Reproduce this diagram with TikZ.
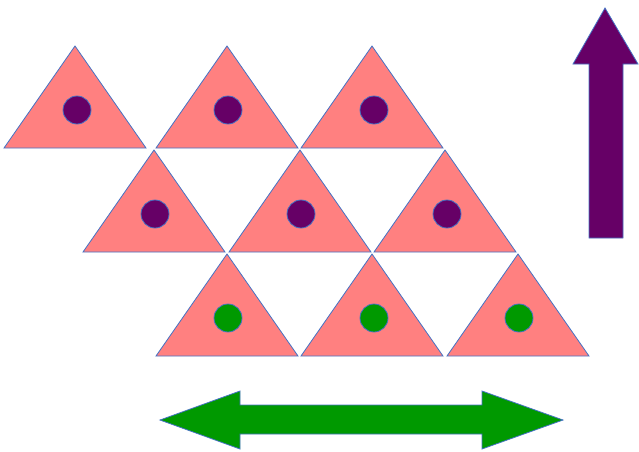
\documentclass[tikz,border=0pt]{standalone}
\usepackage{tikz}

\definecolor{trifill}{HTML}{FF8080}
\definecolor{edgeblue}{HTML}{4472C4}
\definecolor{dotpurple}{HTML}{660066}
\definecolor{dotgreen}{HTML}{009900}

\begin{document}
\begin{tikzpicture}[x=1pt, y=-1pt,
	tri/.style={fill=trifill, draw=edgeblue, line width=0.8pt, line join=miter},
	dotp/.style={fill=dotpurple, draw=edgeblue, line width=0.8pt},
	dotg/.style={fill=dotgreen, draw=edgeblue, line width=0.8pt}]
	\useasboundingbox (0,0) rectangle (639,451);
	% top row
	\draw[tri] (4,148) -- (75,46) -- (146,148) -- cycle;
	\draw[tri] (156,148) -- (227,46) -- (298,148) -- cycle;
	\draw[tri] (301,148) -- (372,46) -- (443,148) -- cycle;
	% middle row
	\draw[tri] (83,252) -- (154,150) -- (225,252) -- cycle;
	\draw[tri] (229,252) -- (300,150) -- (371,252) -- cycle;
	\draw[tri] (374,252) -- (445,150) -- (516,252) -- cycle;
	% bottom row
	\draw[tri] (156,356) -- (227,254) -- (298,356) -- cycle;
	\draw[tri] (301,356) -- (372,254) -- (443,356) -- cycle;
	\draw[tri] (447,356) -- (518,254) -- (589,356) -- cycle;
	% dots
	\draw[dotp] (77,110) circle (14);
	\draw[dotp] (228,110) circle (14);
	\draw[dotp] (374,110) circle (14);
	\draw[dotp] (155,214) circle (14);
	\draw[dotp] (301,214) circle (14);
	\draw[dotp] (447,214) circle (14);
	\draw[dotg] (228,318) circle (14);
	\draw[dotg] (374,318) circle (14);
	\draw[dotg] (519,318) circle (14);
	% up arrow
	\draw[fill=dotpurple, draw=edgeblue, line width=0.8pt]
		(589,238) -- (589,64) -- (573,64) -- (605,8) -- (638,64) -- (623,64) -- (623,238) -- cycle;
	% double arrow
	\draw[fill=dotgreen, draw=edgeblue, line width=0.8pt]
		(160,420) -- (240,391) -- (240,405) -- (482,405) -- (482,391) -- (563,420)
		-- (482,449) -- (482,434) -- (240,434) -- (240,449) -- cycle;
\end{tikzpicture}
\end{document}
